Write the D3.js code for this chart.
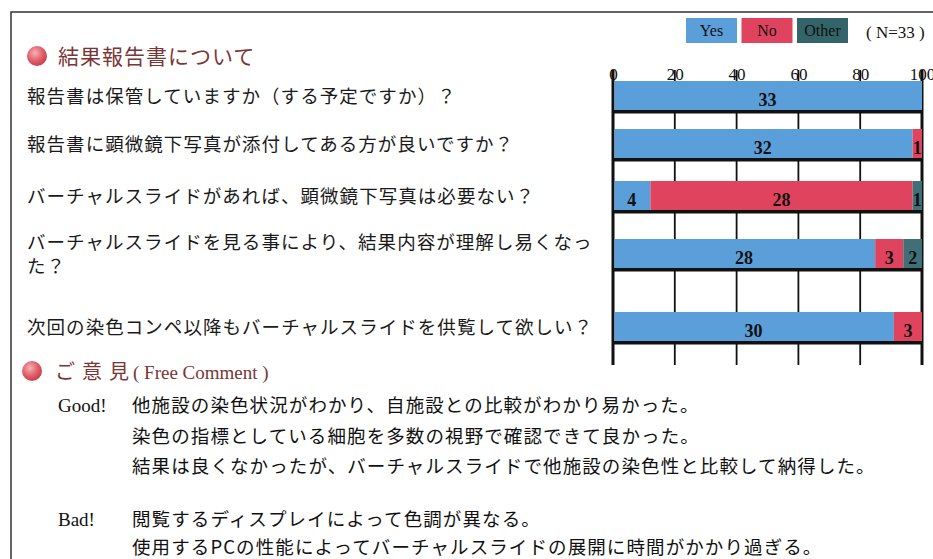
<!DOCTYPE html>
<html>
<head>
<meta charset="utf-8">
<script src="https://cdn.jsdelivr.net/npm/d3@7"></script>
<style>
  body { margin: 0; background: #fff; }
  svg { display: block; }
  .jp { font-family: "Noto Sans CJK JP", "Noto Sans", sans-serif; }
  .serif { font-family: "Liberation Serif", "DejaVu Serif", serif; }
</style>
</head>
<body>
<svg id="viz"></svg>
<script>
// ---- data ----
var questions = [
  '報告書は保管していますか（する予定ですか）？',
  '報告書に顕微鏡下写真が添付してある方が良いですか？',
  'バーチャルスライドがあれば、顕微鏡下写真は必要ない？',
  'バーチャルスライドを見る事により、結果内容が理解し易くなっ|た？',
  '次回の染色コンペ以降もバーチャルスライドを供覧して欲しい？'
];
var yesCounts = [33, 32, 4, 28, 30];
var noCounts = [0, 1, 28, 3, 3];
var otherCounts = [0, 0, 1, 2, 0];
var totalN = 33;
var seriesNames = ['Yes', 'No', 'Other'];
var tickValues = [0, 20, 40, 60, 80, 100];
var goodComments = [
  '他施設の染色状況がわかり、自施設との比較がわかり易かった。',
  '染色の指標としている細胞を多数の視野で確認できて良かった。',
  '結果は良くなかったが、バーチャルスライドで他施設の染色性と比較して納得した。'
];
var badComments = [
  '閲覧するディスプレイによって色調が異なる。',
  '使用するPCの性能によってバーチャルスライドの展開に時間がかかり過ぎる。'
];

// ---- layout ----
var width = 933, height = 559;
var rowCenters = [97, 145, 197, 255, 328];
var barH = 32;
var colors = { Yes: '#5a9fd9', No: '#e0435e', Other: '#3f7077' };
var legendColors = { Yes: '#5a9fd9', No: '#e0435e', Other: '#336469' };

var svg = d3.select('#viz').attr('width', width).attr('height', height);

// outer frame
svg.append('path')
   .attr('d', `M11,${height}V12H${width}`)
   .attr('fill', 'none').attr('stroke', '#333').attr('stroke-width', 1.5);

// red bullet gradient
var defs = svg.append('defs');
var grad = defs.append('radialGradient').attr('id', 'ball').attr('cx', '40%').attr('cy', '35%').attr('r', '65%');
grad.append('stop').attr('offset', '0%').attr('stop-color', '#f6b3b8');
grad.append('stop').attr('offset', '60%').attr('stop-color', '#e1606a');
grad.append('stop').attr('offset', '100%').attr('stop-color', '#c9404c');

// section title
svg.append('circle').attr('cx', 37).attr('cy', 56).attr('r', 10).attr('fill', 'url(#ball)');
svg.append('text').attr('class', 'jp')
   .attr('x', 58).attr('y', 64)
   .attr('font-size', 21).attr('letter-spacing', 1)
   .attr('fill', '#7b3535')
   .text('結果報告書について');

// ---- scales ----
var x = d3.scaleLinear().domain([0, 100]).range([613, 922]);
var y = d3.scaleOrdinal().domain(questions).range(rowCenters);

var rows = questions.map(function(q, i) {
  return { q: q, Yes: yesCounts[i], No: noCounts[i], Other: otherCounts[i] };
});
var stacked = d3.stack().keys(seriesNames)
  .value(function(d, k) { return d[k] / totalN * 100; })(rows);

// question labels (one text element per line)
var qLines = [];
questions.forEach(function(q) {
  var parts = q.split('|');
  var top = y(q) - (parts.length - 1) * 24 / 2;
  parts.forEach(function(l, j) { qLines.push({ text: l, y: top + j * 24 }); });
});
svg.append('g').attr('class', 'jp')
  .selectAll('text').data(qLines).enter().append('text')
  .attr('x', 27)
  .attr('y', function(d) { return d.y + 6; })
  .attr('font-size', 18.5).attr('letter-spacing', 1.05)
  .attr('fill', '#1a1a1a')
  .text(function(d) { return d.text; });

// gridlines
var grid = svg.append('g');
grid.selectAll('line').data(tickValues).enter().append('line')
  .attr('x1', function(d) { return x(d); })
  .attr('x2', function(d) { return x(d); })
  .attr('y1', 70).attr('y2', 365)
  .attr('stroke', '#111')
  .attr('stroke-width', function(d) { return (d === 0 || d === 100) ? 3 : 1.8; });

// tick labels
var axis = svg.append('g')
  .attr('transform', 'translate(0,80)')
  .call(d3.axisTop(x).tickValues(tickValues).tickSize(0).tickPadding(0));
axis.select('.domain').remove();
axis.selectAll('text')
  .attr('font-size', 17)
  .attr('font-family', '"Liberation Serif", serif')
  .attr('fill', '#111');

// bars
var barG = svg.append('g');
stacked.forEach(function(layer) {
  barG.append('g').selectAll('rect').data(layer).enter().append('rect')
    .attr('x', function(d) { return x(d[0]) + (d[0] === 0 ? 1.5 : 0); })
    .attr('width', function(d) { return Math.max(0, x(d[1]) - x(d[0]) - (d[0] === 0 ? 1.5 : 0)); })
    .attr('y', function(d) { return y(d.data.q) - barH / 2; })
    .attr('height', barH)
    .attr('fill', colors[layer.key]);
});
// dark bottom edge of each bar
barG.append('g').selectAll('rect').data(rows).enter().append('rect')
  .attr('x', x(0))
  .attr('width', x(100) - x(0))
  .attr('y', function(d) { return y(d.q) + barH / 2 - 3; })
  .attr('height', 3.5)
  .attr('fill', '#111');

// value labels
stacked.forEach(function(layer) {
  barG.append('g').selectAll('text')
    .data(layer.filter(function(d) { return d.data[layer.key] > 0; }))
    .enter().append('text')
    .attr('class', 'serif')
    .attr('x', function(d) { return (x(d[0]) + x(d[1])) / 2; })
    .attr('y', function(d) { return y(d.data.q) + 9; })
    .attr('text-anchor', 'middle')
    .attr('font-size', 18).attr('font-weight', 'bold')
    .attr('fill', '#111')
    .text(function(d) { return d.data[layer.key]; });
});

// legend
var legend = svg.append('g').attr('transform', 'translate(686,18)');
var lg = legend.selectAll('g').data(seriesNames).enter().append('g')
  .attr('transform', function(d, i) { return `translate(${i * 55.5},0)`; });
lg.append('rect').attr('width', 51).attr('height', 25)
  .attr('fill', function(d) { return legendColors[d]; });
lg.append('text').attr('class', 'serif')
  .attr('x', 25.5).attr('y', 18).attr('text-anchor', 'middle')
  .attr('font-size', 16).attr('fill', '#111')
  .text(function(d) { return d; });
svg.append('text').attr('class', 'serif')
  .attr('x', 866).attr('y', 38)
  .attr('font-size', 17).attr('fill', '#111')
  .text('( N=33 )');

// free comment section
svg.append('circle').attr('cx', 32).attr('cy', 371).attr('r', 10).attr('fill', 'url(#ball)');
svg.append('text').attr('class', 'jp')
  .attr('x', 55).attr('y', 379)
  .attr('font-size', 20).attr('letter-spacing', 7)
  .attr('fill', '#7b3535')
  .text('ご意見');
svg.append('text').attr('class', 'serif')
  .attr('x', 133).attr('y', 379)
  .attr('font-size', 19).attr('fill', '#7b3535')
  .text('( Free Comment )');

function commentBlock(label, lines, y0, gap) {
  svg.append('text').attr('class', 'serif')
    .attr('x', 58).attr('y', y0 + 7)
    .attr('font-size', 19).attr('fill', '#111')
    .text(label);
  svg.append('g').attr('class', 'jp')
    .selectAll('text').data(lines).enter().append('text')
    .attr('x', 132)
    .attr('y', function(d, i) { return y0 + 7 + i * gap; })
    .attr('font-size', 18.5).attr('letter-spacing', 1.1)
    .attr('fill', '#111')
    .text(function(d) { return d; });
}
commentBlock('Good!', goodComments, 405, 30.5);
commentBlock('Bad!', badComments, 519, 28);
</script>
</body>
</html>
